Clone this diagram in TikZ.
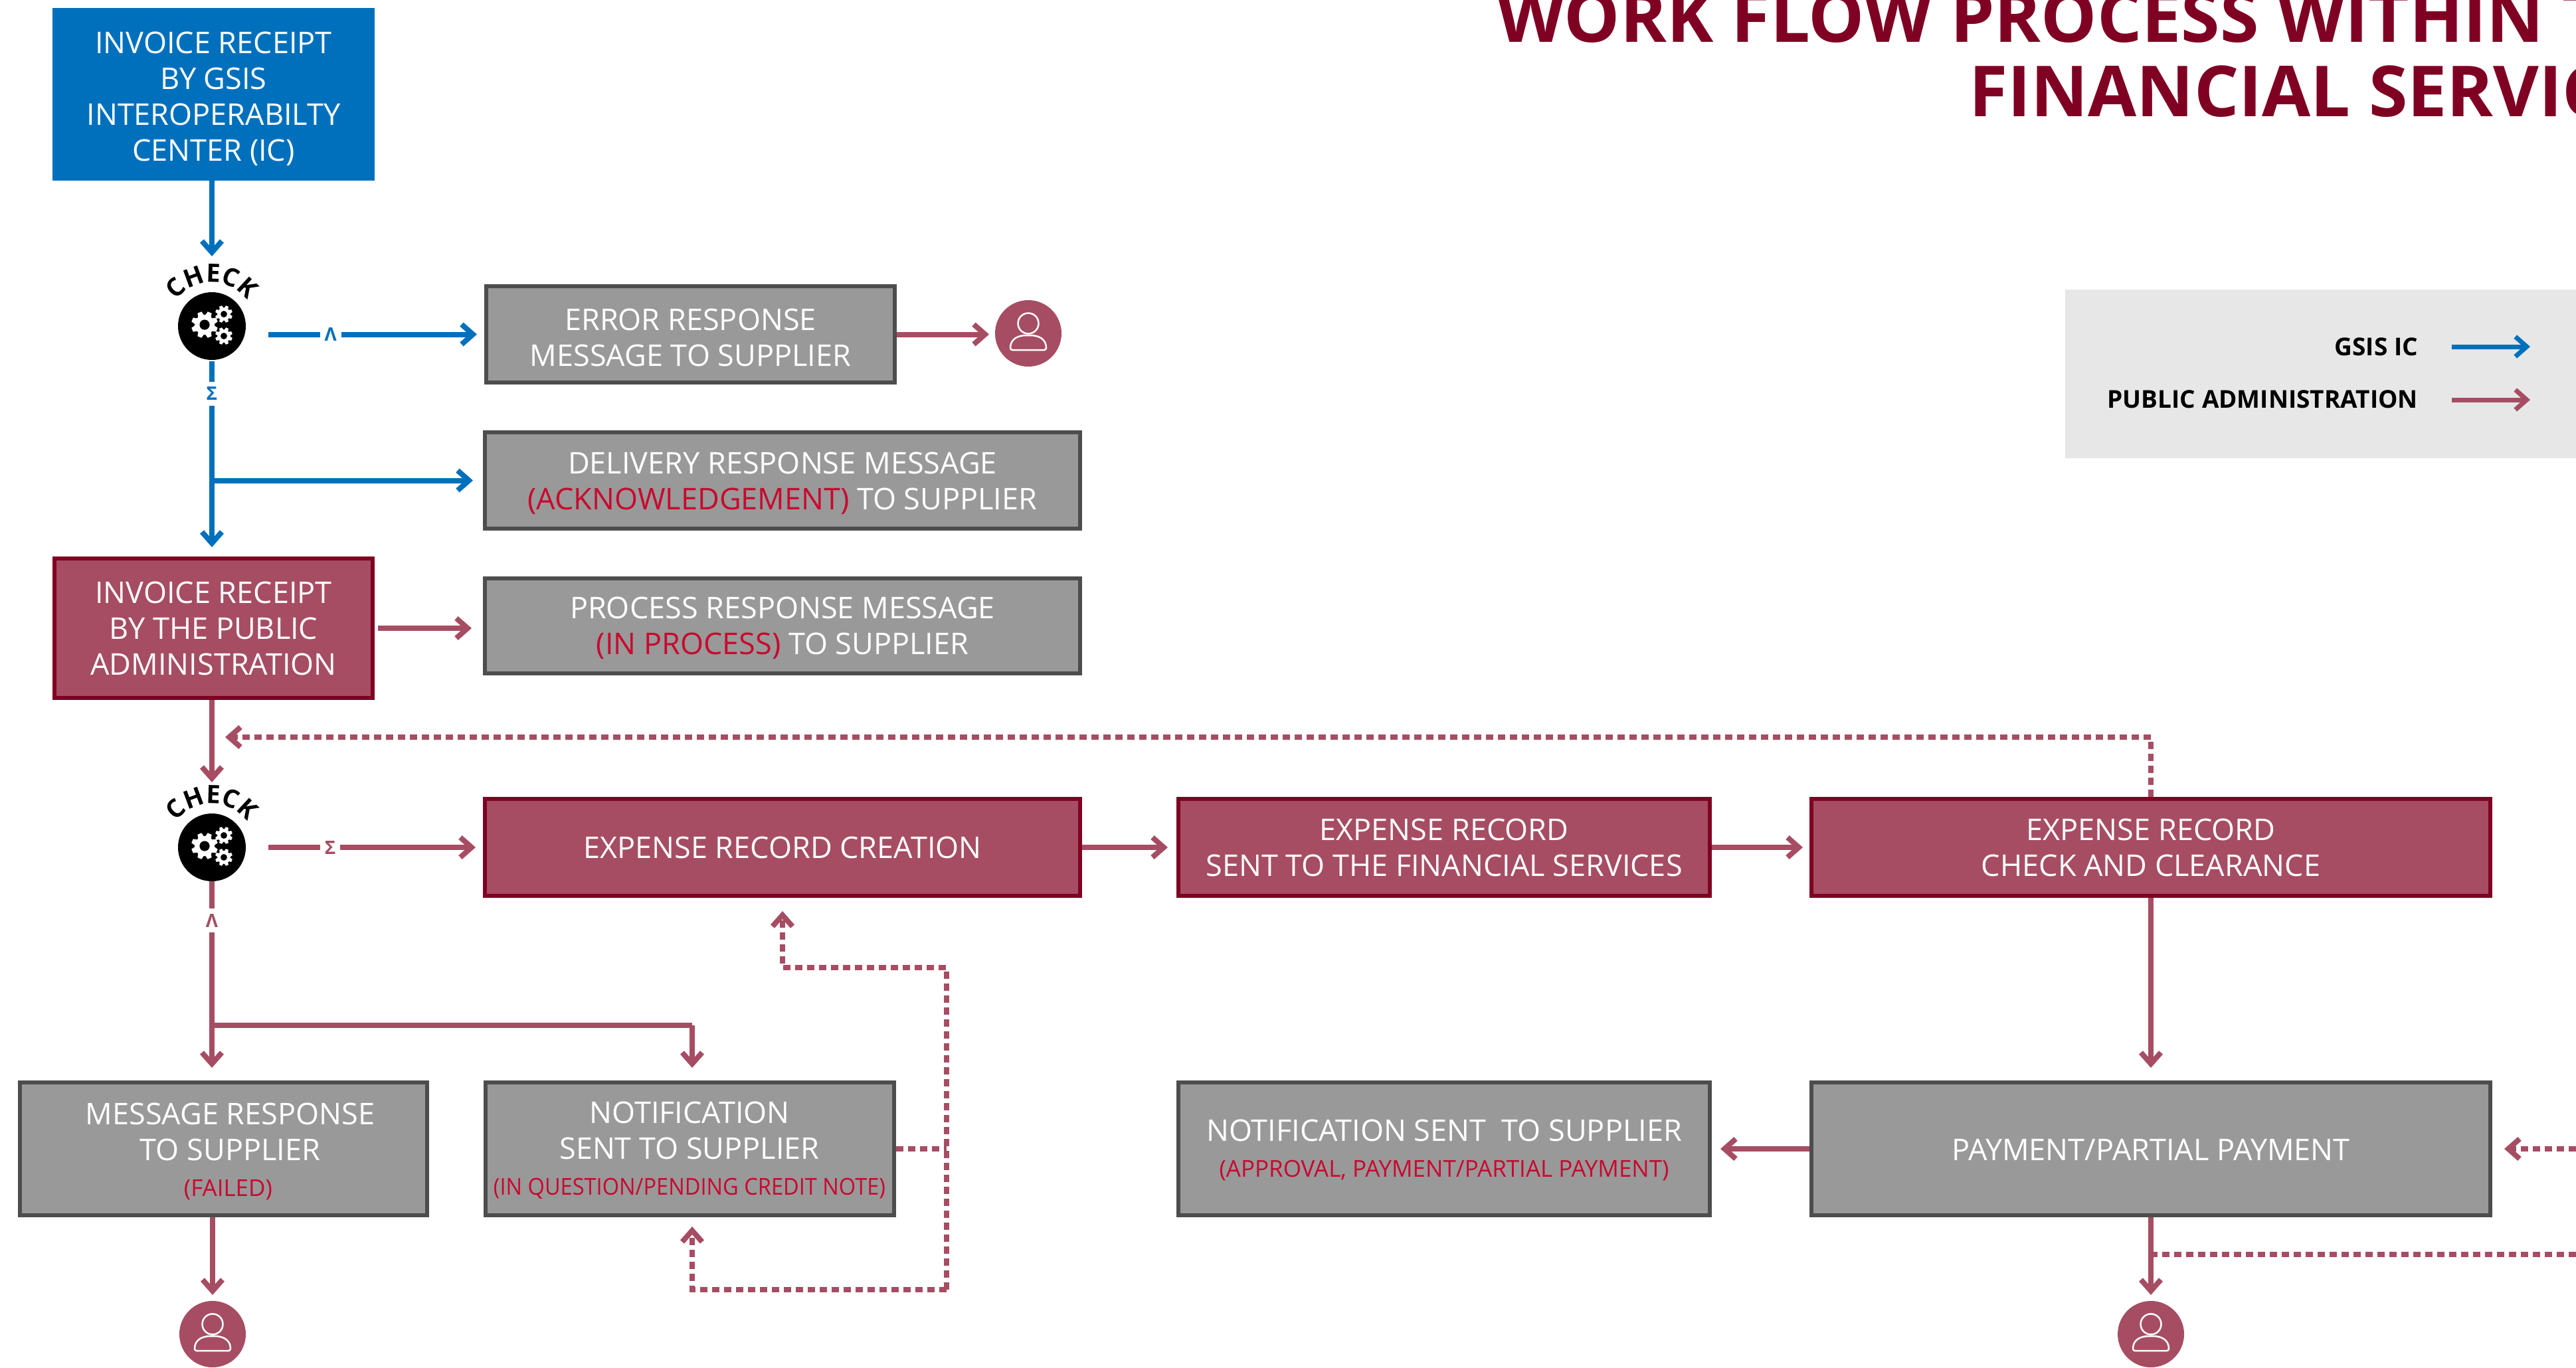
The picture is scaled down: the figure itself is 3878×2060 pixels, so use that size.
\documentclass[tikz,border=0pt]{standalone}
\usepackage{fontspec}
\setmainfont{Open Sans}
\usetikzlibrary{arrows.meta,decorations.text}
\definecolor{bluec}{HTML}{0070BD}
\definecolor{rosec}{HTML}{A64D63}
\definecolor{wine}{HTML}{7F0022}
\definecolor{grayf}{HTML}{999999}
\definecolor{grayd}{HTML}{4D4D4D}
\definecolor{redt}{HTML}{C9082E}
\definecolor{legbg}{HTML}{E6E7E6}
\newcommand{\redtxt}[1]{\textcolor{redt}{#1}}
\newcommand{\smalltxt}{\fontsize{35}{44}\selectfont}
\newcommand{\nudge}[1]{\rule{0pt}{#1pt}}
\tikzset{
  x=1pt,y=-1pt,
  sized/.style 2 args={minimum width=#1pt-6pt,minimum height=#2pt-6pt},
  flowbox/.style={rectangle,line width=6pt,align=center,text=white,inner sep=0pt,
     font=\fontsize{45}{54}\selectfont},
  graybox/.style={flowbox,draw=grayd,fill=grayf},
  rosebox/.style={flowbox,draw=wine,fill=rosec},
  bluebox/.style={flowbox,draw=bluec,fill=bluec},
  flowline/.style={line width=8pt,-{Straight Barb[length=17pt,width=30pt]}},
  blueline/.style={flowline,draw=bluec},
  roseline/.style={flowline,draw=rosec},
  rosedash/.style={line width=8pt,draw=rosec,dash pattern=on 11pt off 7pt},
  rosedashtip/.style={rosedash,-{Straight Barb[length=17pt,width=30pt]}},
  plain/.style={line width=8pt},
  blueplain/.style={plain,draw=bluec},
  roseplain/.style={plain,draw=rosec},
  cond/.style={fill=white,inner xsep=7pt,inner ysep=3pt,font=\fontsize{28}{28}\selectfont\bfseries},
  checkdot/.style={circle,fill=black,minimum size=102pt,inner sep=0pt,outer sep=0pt},
  persondot/.style={circle,fill=rosec,minimum size=100pt,inner sep=0pt,outer sep=0pt},
  leglab/.style={anchor=east,inner sep=0pt,font=\fontsize{37}{37}\selectfont\bfseries},
  titlelab/.style={anchor=base west,inner sep=0pt,text=wine,font=\fontsize{106}{106}\selectfont\bfseries},
  pics/gearicon/.style={code={
    \fill[white] (0,0) circle[radius=0.75*#1];
    \foreach \a in {0,45,...,315}
      \fill[white,rotate=\a+22.5] (-.25*#1,.6*#1) -- (-.16*#1,#1) -- (.16*#1,#1) -- (.25*#1,.6*#1) -- cycle;
    \fill[black] (0,0) circle[radius=.38*#1];
  }},
  pics/checkicon/.style={code={
    \pic at (-11,-2) {gearicon=20};
    \pic at (18,-18) {gearicon=13};
    \pic at (18,15) {gearicon=13};
    \begin{scope}[y=1pt]
      \path[decorate,decoration={text along path,
        text={|\bfseries\fontsize{38}{38}\selectfont|CHECK},text align=center}]
        (170:66) arc[start angle=170,end angle=10,radius=66];
    \end{scope}
  }},
  pics/personicon/.style={code={
    \draw[white,line width=2.5pt] (0,-15) circle[radius=15.5];
    \draw[white,line width=2.5pt,rounded corners=3pt] (-27,25) .. controls (-27,8) and (-15,3) .. (0,3) .. controls (15,3) and (27,8) .. (27,25) -- cycle;
  }},
}
\begin{document}
\begin{tikzpicture}
\useasboundingbox (0,0) rectangle (3878,2060);

% title
\node[titlelab] (title1) at (2253,64) {WORK FLOW PROCESS WITHIN THE};
\node[titlelab] (title2) at (2964,176) {FINANCIAL SERVICES};

% legend
\fill[legbg] (3109,436) rectangle (3878,690);
\node[leglab] (leg1) at (3640,522) {GSIS IC};
\node[leglab] (leg2) at (3640,601) {PUBLIC ADMINISTRATION};
\coordinate (leg1a) at (3691,522);
\coordinate (leg1b) at (3809,522);
\coordinate (leg2a) at (3691,602);
\coordinate (leg2b) at (3809,602);
\draw[blueline,line width=7pt] (leg1a) -- (leg1b);
\draw[roseline,line width=7pt] (leg2a) -- (leg2b);

% boxes
\node[bluebox,sized={485}{260}] (inv1) at (321.5,142) {\nudge{46}INVOICE RECEIPT\\BY GSIS\\INTEROPERABILTY\\CENTER (IC)};
\node[checkdot] (chk1) at (319,491) {};
\pic at (chk1) {checkicon};
\node[graybox,sized={621}{151}] (err) at (1039.5,503.5) {\nudge{42}ERROR RESPONSE\\MESSAGE TO SUPPLIER};
\node[persondot] (usr1) at (1548,502) {};
\pic at (usr1) {personicon};
\node[graybox,sized={902}{151}] (del) at (1178,723.5) {\nudge{42}DELIVERY RESPONSE MESSAGE\\\redtxt{(ACKNOWLEDGEMENT)} TO SUPPLIER};
\node[rosebox,sized={485}{216}] (inv2) at (321.5,946) {INVOICE RECEIPT\\BY THE PUBLIC\\ADMINISTRATION};
\node[graybox,sized={902}{149}] (pro) at (1178,942.5) {\nudge{40}PROCESS RESPONSE MESSAGE\\\redtxt{(IN PROCESS)} TO SUPPLIER};
\node[checkdot] (chk2) at (319,1276) {};
\pic at (chk2) {checkicon};
\node[rosebox,sized={902}{152}] (exc) at (1178,1276) {EXPENSE RECORD CREATION};
\node[rosebox,sized={806}{152}] (exs) at (2174,1276) {EXPENSE RECORD\\SENT TO THE FINANCIAL SERVICES};
\node[rosebox,sized={1028}{152}] (ecc) at (3238,1276) {EXPENSE RECORD\\CHECK AND CLEARANCE};
\node[graybox,sized={619}{206}] (msg) at (336.5,1730) {\nudge{40}\hspace*{20pt}MESSAGE RESPONSE\\\hspace*{20pt}TO SUPPLIER\\\hspace*{14pt}{\smalltxt\redtxt{(FAILED)}}};
\node[graybox,sized={621}{206}] (not1) at (1038,1730) {\nudge{37}NOTIFICATION\\SENT TO SUPPLIER\\\scalebox{.93}[1]{\smalltxt\redtxt{(IN QUESTION/PENDING CREDIT NOTE)}}};
\node[graybox,sized={806}{206}] (not2) at (2174,1730) {\nudge{36}NOTIFICATION SENT\ \ TO SUPPLIER\\{\smalltxt\redtxt{(APPROVAL, PAYMENT/PARTIAL PAYMENT)}}};
\node[graybox,sized={1028}{206}] (pay) at (3238,1730) {\nudge{34}PAYMENT/PARTIAL PAYMENT};
\node[persondot] (usr2) at (320,2009) {};
\pic at (usr2) {personicon};
\node[persondot] (usr3) at (3238,2009) {};
\pic at (usr3) {personicon};

% blue connectors
\draw[blueline,shorten >=54pt] (inv1.south -| chk1) -- (chk1.north);
\draw[blueline,shorten <=34pt,shorten >=11pt] (chk1.east |- err.west) -- node[cond,pos=.356,text=bluec] (lam1) {Λ} (err.west);
\draw[blueline,shorten <=2pt,shorten >=14pt] (chk1.south) -- node[cond,pos=.172,text=bluec,inner xsep=3pt,inner ysep=8pt] (sig1) {Σ} (chk1 |- inv2.north);
\draw[blueline,shorten >=15pt] (chk1 |- del.west) -- (del.west);

% rose connectors
\draw[roseline,shorten >=9pt] (err.east) -- (err.east -| usr1.west);
\draw[roseline,shorten <=5pt,shorten >=17pt] (inv2.east) -- (inv2.east -| pro.west);
\draw[roseline,shorten >=47pt] (inv2.south -| chk2) -- (chk2.north);
\draw[roseline,shorten <=34pt,shorten >=11pt] (chk2.east) -- node[cond,pos=.356,text=rosec] (sig2) {Σ} (exc.west);
\draw[roseline,shorten >=19pt] (chk2.south) -- node[cond,pos=.197,text=rosec,inner xsep=3pt,inner ysep=8pt] (lam2) {Λ} (chk2 |- msg.north);
\coordinate (br2) at (319,1544);
\coordinate (br3) at (1042,1544);
\coordinate (br4) at (1042,1627);
\draw[roseplain] (br2) -- (br3);
\draw[roseline,shorten >=19pt] (br3) -- (br4);
\draw[roseline,shorten >=13pt] (exc.east) -- (exs.west);
\draw[roseline,shorten >=10pt] (exs.east) -- (ecc.west);
\draw[roseline,shorten >=19pt] (ecc.south) -- (ecc.south |- pay.north);
\draw[roseline,shorten >=13pt] (pay.west) -- (not2.east);
\draw[roseline,shorten >=9pt] (msg.south -| usr2) -- (usr2.north);
\draw[roseline,shorten >=9pt] (pay.south -| usr3) -- (usr3.north);

% dotted connectors
\coordinate (fbk) at (3238,1110);
\coordinate (fbkend) at (339,1110);
\draw[rosedashtip] (ecc.north -| fbk) -- (fbk) -- (fbkend);
\coordinate (loopT) at (1425,1457);
\coordinate (loopB) at (1425,1942);
\coordinate (loopC) at (1042,1942);
\coordinate (loopD) at (1042,1847);
\draw[rosedash] (not1.east) -- (not1.east -| loopB);
\draw[rosedashtip,shorten >=20pt] (loopB) -- (loopT) -- (loopT -| exc.south) -- (exc.south);
\draw[rosedashtip] (loopB) -- (loopC) -- (loopD);
\coordinate (edgeA) at (3878,1730);
\coordinate (edgeB) at (3878,1889);
\draw[rosedashtip,shorten >=18pt] (edgeA) -- (pay.east);
\draw[rosedash] (edgeB) -- (edgeB -| usr3);
\end{tikzpicture}
\end{document}
